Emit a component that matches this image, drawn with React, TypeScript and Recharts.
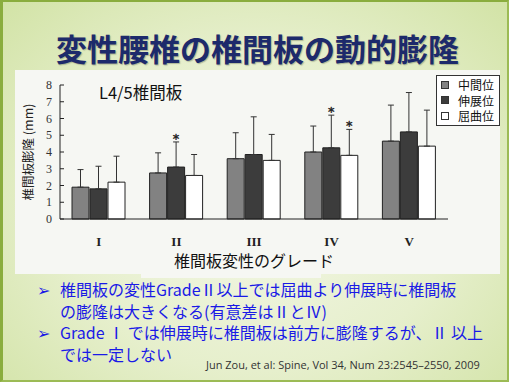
import React from "react";
import { BarChart, Bar, XAxis, YAxis, ErrorBar, Legend, LabelList } from "recharts";

const grades = ["I", "II", "III", "IV", "V"];
const neutral = [1.9, 2.75, 3.6, 4.0, 4.65];
const extension = [1.8, 3.1, 3.85, 4.25, 5.2];
const flexion = [2.2, 2.6, 3.5, 3.8, 4.35];
const neutralSd = [1.05, 1.2, 1.55, 1.55, 2.15];
const extensionSd = [1.35, 1.5, 2.25, 1.95, 2.35];
const flexionSd = [1.55, 1.25, 1.55, 1.55, 2.15];
// significant vs neutral (*)
const extensionSig = [false, true, false, true, false];
const flexionSig = [false, false, false, true, false];
const yTicks = [0, 1, 2, 3, 4, 5, 6, 7, 8];

const seriesInfo = [
  { key: "neutral", name: "中間位", fill: "#828282" },
  { key: "extension", name: "伸展位", fill: "#3c3c3c" },
  { key: "flexion", name: "屈曲位", fill: "#ffffff" },
];

const data = grades.map((g, i) => ({
  grade: g,
  neutral: neutral[i],
  extension: extension[i],
  flexion: flexion[i],
  neutralErr: [0, neutralSd[i]],
  extensionErr: [0, extensionSd[i]],
  flexionErr: [0, flexionSd[i]],
}));

const jp = '"Noto Sans CJK JP", "Noto Sans", sans-serif';
const serif = '"Liberation Serif", "DejaVu Serif", serif';

function starLabel(sig: boolean[], sd: number[]) {
  return (props: any) => {
    const idx = props.index;
    if (idx == null || !sig[idx]) return null;
    const vb = props.viewBox || props;
    const { x, y, width, height } = vb;
    const val = Number(props.value);
    const perUnit = val ? height / val : 0;
    const top = y - sd[idx] * perUnit;
    return (
      <text
        x={x + width / 2}
        y={top + 1}
        textAnchor="middle"
        fontSize={13}
        fontFamily='"DejaVu Sans", sans-serif'
        fill="#222"
        stroke="#222"
        strokeWidth={0.4}
      >
        *
      </text>
    );
  };
}

function YTick(props: any) {
  const { x, y, payload } = props;
  return (
    <g>
      <line x1={x + 8} x2={x + 12} y1={y} y2={y} stroke="#222" />
      <text x={x} y={y} dy={4} textAnchor="end" fontSize={12} fontFamily={serif} fill="#333">
        {payload.value}
      </text>
    </g>
  );
}

function LegendBox() {
  return (
    <div
      style={{
        border: "1px solid #333",
        background: "#fff",
        padding: "1px 4px",
        width: 54,
        whiteSpace: "nowrap",
        fontFamily: jp,
        fontSize: 12,
        lineHeight: "15.5px",
        color: "#111",
      }}
    >
      {seriesInfo.map((s) => (
        <div key={s.key} style={{ display: "flex", alignItems: "center" }}>
          <span
            style={{
              display: "inline-block",
              width: 6,
              height: 6,
              background: s.fill,
              border: "1px solid #333",
              marginRight: 9,
              flexShrink: 0,
            }}
          />
          {s.name}
        </div>
      ))}
    </div>
  );
}

export default function App() {
  return (
    <div
      style={{
        position: "absolute",
        left: 0,
        top: 0,
        width: 509,
        height: 382,
        boxSizing: "border-box",
        borderLeft: "3px solid #8aad3e",
        borderTop: "2px solid #8aad3e",
        borderRight: "2px solid #9cbb55",
        borderBottom: "2px solid #9cbb55",
        background: "radial-gradient(ellipse at 50% 55%, #f3f7e6 0%, #e6efcc 55%, #d2e3a6 100%)",
        overflow: "hidden",
        fontFamily: jp,
      }}
    >
      <div
        style={{
          position: "absolute",
          left: 0,
          width: 509,
          top: 26,
          textAlign: "center",
          fontSize: 31,
          fontWeight: 700,
          color: "#1d2a6b",
          textShadow: "1px 1px 1px rgba(120,130,100,0.5)",
          lineHeight: "40px",
        }}
      >
        変性腰椎の椎間板の動的膨隆
      </div>

      <div style={{ position: "absolute", left: 12, top: 68, width: 485, height: 204, background: "#f6f7f3" }} />
      <div style={{ position: "absolute", left: 138, top: 250, width: 180, height: 26, background: "#f6f7f3" }} />

      <div style={{ position: "absolute", left: 12, top: 68 }}>
        <BarChart
          width={485}
          height={210}
          data={data}
          margin={{ top: 15, right: 52, left: 2, bottom: 5 }}
          barSize={17}
          barGap={1}
        >
          <XAxis
            dataKey="grade"
            axisLine={{ stroke: "#222" }}
            tickLine={false}
            height={56}
            tick={{ fontSize: 13, fontFamily: serif, fontWeight: 700, fill: "#222" }}
            tickMargin={12}
            label={{
              value: "椎間板変性のグレード",
              position: "insideBottom",
              offset: 8,
              style: { fontSize: 16, fontFamily: jp, fill: "#111" },
            }}
          />
          <YAxis
            domain={[0, 8]}
            ticks={yTicks}
            interval={0}
            width={43}
            axisLine={{ stroke: "#222" }}
            tickLine={false}
            tickSize={0}
            tickMargin={8}
            tick={<YTick />}
            label={{
              value: "椎間板膨隆 (mm)",
              angle: -90,
              position: "center",
              dx: -10,
              style: { fontSize: 12.5, fontFamily: jp, fill: "#222" },
            }}
          />
          <Legend
            layout="vertical"
            align="center"
            verticalAlign="middle"
            wrapperStyle={{ left: 421, top: 5, width: 64 }}
            content={() => <LegendBox />}
          />
          <Bar dataKey="neutral" name="中間位" fill="#828282" stroke="#222" strokeWidth={1} isAnimationActive={false}>
            <ErrorBar dataKey="neutralErr" direction="y" width={3} stroke="#333" strokeWidth={1} />
          </Bar>
          <Bar dataKey="extension" name="伸展位" fill="#3c3c3c" stroke="#222" strokeWidth={1} isAnimationActive={false}>
            <ErrorBar dataKey="extensionErr" direction="y" width={3} stroke="#333" strokeWidth={1} />
            <LabelList dataKey="extension" content={starLabel(extensionSig, extensionSd)} />
          </Bar>
          <Bar dataKey="flexion" name="屈曲位" fill="#ffffff" stroke="#222" strokeWidth={1} isAnimationActive={false}>
            <ErrorBar dataKey="flexionErr" direction="y" width={3} stroke="#333" strokeWidth={1} />
            <LabelList dataKey="flexion" content={starLabel(flexionSig, flexionSd)} />
          </Bar>
        </BarChart>
      </div>

      <div
        style={{
          position: "absolute",
          left: 96,
          top: 78,
          fontSize: 16.5,
          color: "#111",
          fontFamily: jp,
        }}
      >
        L4/5椎間板
      </div>

      <div
        style={{
          position: "absolute",
          left: 34,
          top: 277,
          width: 470,
          fontSize: 16,
          lineHeight: "21.7px",
          color: "#1a1ae6",
          fontFamily: jp,
        }}
      >
        <div style={{ display: "flex" }}>
          <span style={{ width: 23, flexShrink: 0 }}>➢</span>
          <span>
            椎間板の変性GradeⅡ以上では屈曲より伸展時に椎間板
            <br />
            の膨隆は大きくなる(有意差はⅡとⅣ)
          </span>
        </div>
        <div style={{ display: "flex" }}>
          <span style={{ width: 23, flexShrink: 0 }}>➢</span>
          <span>
            Grade Ⅰ では伸展時に椎間板は前方に膨隆するが、Ⅱ 以上
            <br />
            では一定しない
          </span>
        </div>
      </div>

      <div
        style={{
          position: "absolute",
          left: 203,
          top: 355,
          fontSize: 11,
          color: "#333",
          fontFamily: '"Open Sans", "Noto Sans", sans-serif',
        }}
      >
        Jun Zou, et al: Spine, Vol 34, Num 23:2545–2550, 2009
      </div>
    </div>
  );
}
